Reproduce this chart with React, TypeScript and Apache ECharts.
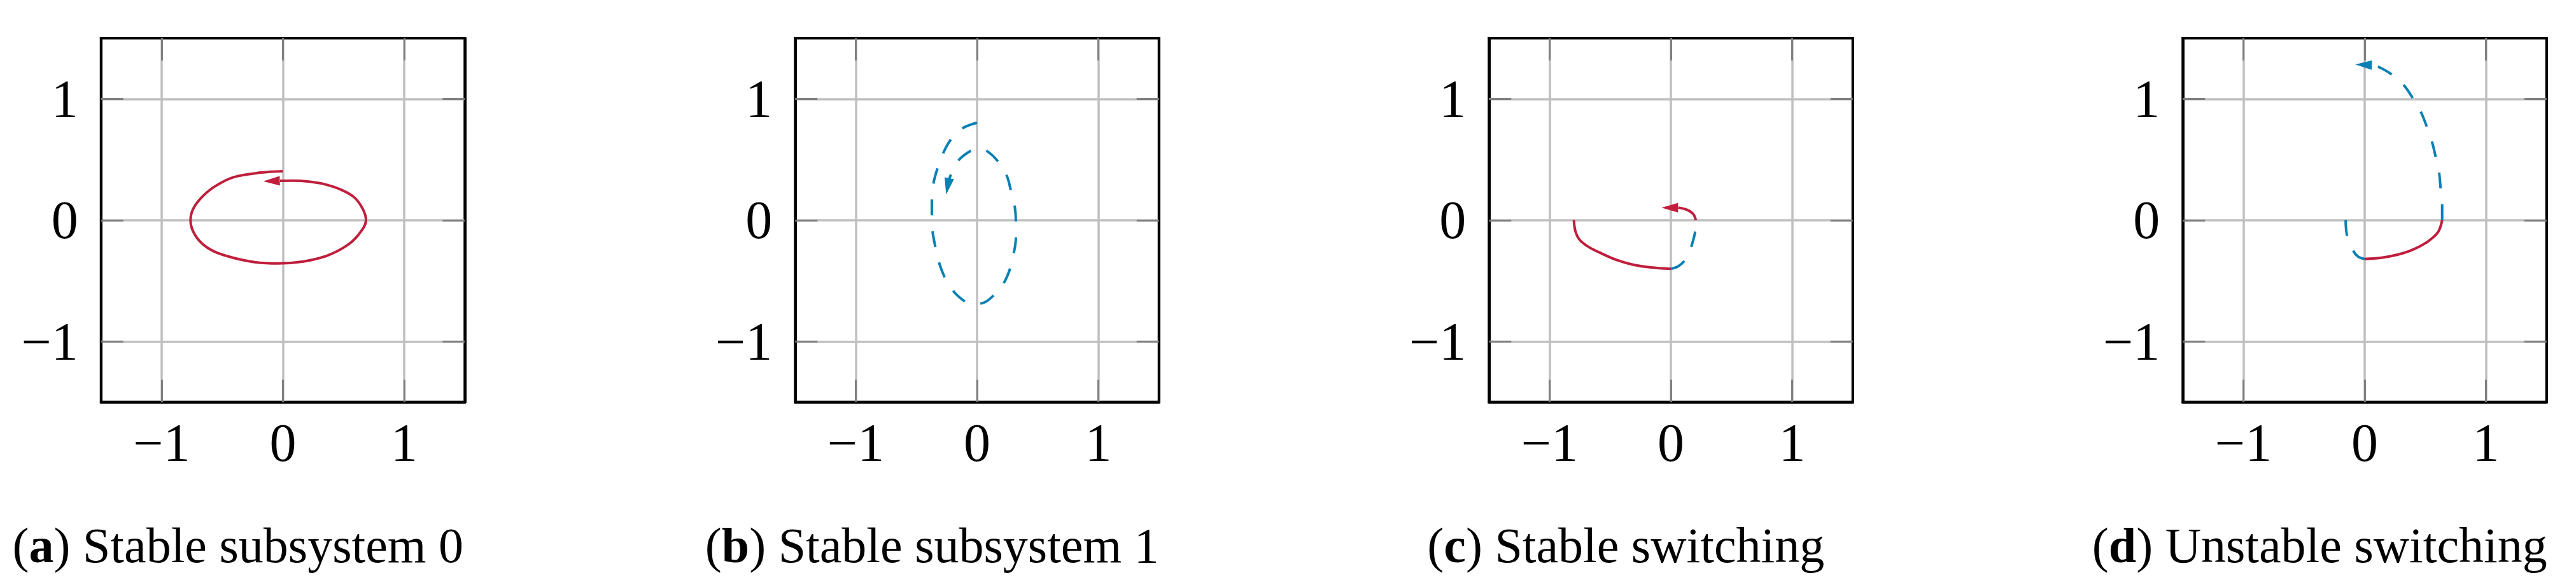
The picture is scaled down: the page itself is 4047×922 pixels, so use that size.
import React, { useEffect, useRef } from "react";
import * as echarts from "echarts";

// ---------- axis values ----------
const AXIS_MIN = -1.5;
const AXIS_MAX = 1.5;
const TICK_VALUES = [-1, 0, 1];

// ---------- captions ----------
const captionLetters = ["a", "b", "c", "d"];
const captionTexts = ["Stable subsystem 0", "Stable subsystem 1", "Stable switching", "Unstable switching"];

// ---------- panel (a): subsystem 0 (red, solid) ----------
const aRed = [
  [0, 0.403], [-0.181, 0.392], [-0.408, 0.354], [-0.566, 0.275], [-0.671, 0.187], [-0.741, 0.091],
  [-0.762, 0], [-0.741, -0.092], [-0.671, -0.189], [-0.566, -0.259], [-0.408, -0.311], [-0.234, -0.346],
  [-0.041, -0.357], [0.169, -0.341], [0.361, -0.294], [0.519, -0.215], [0.624, -0.119], [0.685, 0],
  [0.659, 0.091], [0.589, 0.187], [0.484, 0.249], [0.344, 0.296], [0.204, 0.319], [0.081, 0.325], [-0.024, 0.324],
];
// arrow: [point on curve behind the head, centre of the head]
const aRedArrow = [[-0.024, 0.324], [-0.094, 0.322]];

// ---------- panel (b): subsystem 1 (blue, dashed) ----------
const bBlue = [
  [0, 0.803], [-0.122, 0.756], [-0.219, 0.66], [-0.28, 0.551], [-0.327, 0.424], [-0.359, 0.306],
  [-0.373, 0.17], [-0.373, 0.047], [-0.367, -0.092], [-0.345, -0.215], [-0.315, -0.346], [-0.268, -0.469],
  [-0.201, -0.579], [-0.105, -0.667], [-0.035, -0.69], [0.05, -0.683], [0.131, -0.626], [0.219, -0.521],
  [0.271, -0.404], [0.303, -0.271], [0.32, -0.149], [0.32, -0.014], [0.311, 0.112], [0.28, 0.24],
  [0.245, 0.366], [0.175, 0.481], [0.082, 0.569], [0.01, 0.586], [-0.044, 0.576], [-0.149, 0.497],
  [-0.215, 0.376], [-0.232, 0.33],
];
const bBlueArrow = [[-0.232, 0.33], [-0.242, 0.278]];

// ---------- panel (c): stable switching ----------
const cRed1 = [
  [-0.8, 0], [-0.787, -0.092], [-0.752, -0.163], [-0.674, -0.224], [-0.569, -0.276], [-0.446, -0.329],
  [-0.306, -0.369], [-0.166, -0.39], [0, -0.402],
];
const cBlue = [[0, -0.402], [0.061, -0.381], [0.114, -0.334], [0.148, -0.28], [0.17, -0.215], [0.201, -0.092], [0.206, 0]];
const cRed2 = [[0.206, 0], [0.184, 0.051], [0.131, 0.086], [0.061, 0.103]];
const cRedArrow = [[0.061, 0.103], [-0.009, 0.103]];

// ---------- panel (d): unstable switching ----------
const dBlue1 = [[-0.157, 0], [-0.145, -0.128], [-0.096, -0.25], [-0.052, -0.303], [0, -0.32]];
const dRed = [[0, -0.32], [0.131, -0.311], [0.271, -0.285], [0.394, -0.245], [0.516, -0.18], [0.604, -0.101], [0.639, 0]];
const dBlue2 = [
  [0.639, 0], [0.639, 0.135], [0.626, 0.266], [0.613, 0.397], [0.586, 0.52], [0.555, 0.646], [0.511, 0.774],
  [0.464, 0.891], [0.394, 1.01], [0.324, 1.111], [0.222, 1.202], [0.114, 1.264], [0.061, 1.278],
];
const dBlueArrow = [[0.061, 1.278], [-0.009, 1.281]];

// ---------- styling / layout ----------
const RED = "#BF1E3C";
const BLUE = "#0A80B4";
const GRID_COLOR = "#BFBFBF";
const TICK_COLOR = "#808080";
const FONT = "'Liberation Serif', 'DejaVu Serif', serif";
const GRID_LEFTS = [158.75, 1249.25, 2339.25, 3429.25];
const GRID_TOP = 60;
const GRID_SIZE = 571.5;

type Seg = { data: number[][]; kind: "red" | "blue"; arrow?: number[][] };
const panels: Seg[][] = [
  [{ data: aRed, kind: "red", arrow: aRedArrow }],
  [{ data: bBlue, kind: "blue", arrow: bBlueArrow }],
  [
    { data: cRed1, kind: "red" },
    { data: cBlue, kind: "blue" },
    { data: cRed2, kind: "red", arrow: cRedArrow },
  ],
  [
    { data: dBlue1, kind: "blue" },
    { data: dRed, kind: "red" },
    { data: dBlue2, kind: "blue", arrow: dBlueArrow },
  ],
];

const fmt = (v: number) => (v < 0 ? "\u2212" + Math.abs(v) : String(v));

function buildOption() {
  const grid: any[] = [];
  const xAxis: any[] = [];
  const yAxis: any[] = [];
  const series: any[] = [];
  const graphic: any[] = [];

  panels.forEach((segs, i) => {
    grid.push({
      left: GRID_LEFTS[i],
      top: GRID_TOP,
      width: GRID_SIZE,
      height: GRID_SIZE,
      show: true,
      borderColor: "#000",
      borderWidth: 4,
      backgroundColor: "transparent",
      containLabel: false,
    });

    const common = { gridIndex: i, type: "value", min: AXIS_MIN, max: AXIS_MAX };
    const tickAxis = (position: string, withLabels: boolean) => ({
      ...common,
      position,
      z: 2,
      axisLine: { show: true, onZero: false, lineStyle: { color: "#000", width: 4 } },
      axisTick: {
        show: true,
        inside: true,
        length: 35,
        customValues: TICK_VALUES,
        lineStyle: { color: TICK_COLOR, width: 3 },
      },
      axisLabel: withLabels
        ? {
            show: true,
            customValues: TICK_VALUES,
            formatter: fmt,
            fontFamily: FONT,
            fontSize: 84,
            color: "#000",
            margin: position === "bottom" ? 22 : 36,
          }
        : { show: false },
      splitLine: { show: false },
    });
    const gridAxis = (position: string) => ({
      ...common,
      position,
      z: 0,
      axisLine: { show: false, onZero: false },
      axisTick: { show: false, customValues: TICK_VALUES },
      axisLabel: { show: false, customValues: TICK_VALUES },
      splitLine: { show: true, lineStyle: { color: GRID_COLOR, width: 3.5 } },
    });

    xAxis.push(tickAxis("bottom", true), tickAxis("top", false), gridAxis("bottom"));
    yAxis.push(tickAxis("left", true), tickAxis("right", false), gridAxis("left"));

    segs.forEach((s) => {
      const color = s.kind === "red" ? RED : BLUE;
      series.push({
        type: "line",
        xAxisIndex: i * 3,
        yAxisIndex: i * 3,
        data: s.data,
        symbol: "none",
        showSymbol: false,
        smooth: 0.35,
        z: 5,
        silent: true,
        lineStyle: { color, width: 4, type: s.kind === "blue" ? [25, 25] : "solid", cap: "butt" },
        emphasis: { disabled: true },
      });
      if (s.arrow) {
        const [from, to] = s.arrow;
        const angle = (Math.atan2(to[1] - from[1], to[0] - from[0]) * 180) / Math.PI - 90;
        series.push({
          type: "scatter",
          xAxisIndex: i * 3,
          yAxisIndex: i * 3,
          data: [to],
          symbol: "triangle",
          symbolSize: [15, 26],
          symbolRotate: angle,
          z: 6,
          silent: true,
          itemStyle: { color, opacity: 1 },
          emphasis: { disabled: true },
        });
      }
    });

    graphic.push({
      type: "text",
      x: GRID_LEFTS[i] + 215,
      y: 856,
      z: 10,
      style: {
        text: "({b|" + captionLetters[i] + "}) " + captionTexts[i],
        fontFamily: FONT,
        fontSize: 78,
        fill: "#000",
        align: "center",
        verticalAlign: "middle",
        textAlign: "center",
        textVerticalAlign: "middle",
        rich: {
          b: { fontFamily: FONT, fontSize: 78, fontWeight: "bold", fill: "#000" },
        },
      },
    });
  });

  return {
    animation: false,
    backgroundColor: "#fff",
    grid,
    xAxis,
    yAxis,
    series,
    graphic,
  };
}

export default function App() {
  const ref = useRef<HTMLDivElement>(null);
  useEffect(() => {
    document.body.style.margin = "0";
    if (!ref.current) return;
    const chart = echarts.init(ref.current, undefined, { renderer: "svg" });
    chart.setOption(buildOption() as any);
    return () => chart.dispose();
  }, []);
  return (
    <div
      ref={ref}
      style={{ position: "absolute", left: 0, top: 0, width: 4047, height: 922, background: "#fff" }}
    />
  );
}
